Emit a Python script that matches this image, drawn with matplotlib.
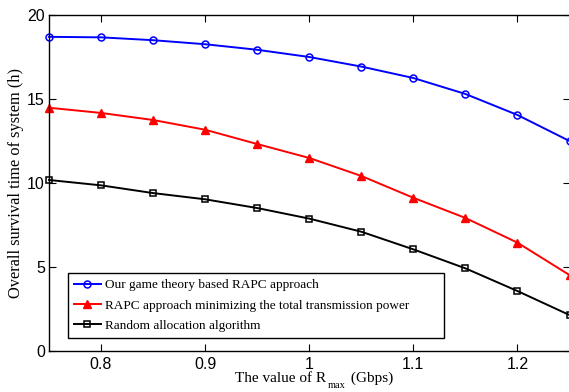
import matplotlib
matplotlib.use("Agg")
import matplotlib.pyplot as plt

x = [0.75, 0.8, 0.85, 0.9, 0.95, 1.0, 1.05, 1.1, 1.15, 1.2, 1.25]
game = [18.7, 18.67, 18.5, 18.26, 17.93, 17.5, 16.93, 16.25, 15.3, 14.05, 12.5]
rapc_min = [14.48, 14.17, 13.75, 13.17, 12.32, 11.49, 10.42, 9.12, 7.92, 6.45, 4.52]
random_alloc = [10.18, 9.86, 9.4, 9.03, 8.51, 7.88, 7.1, 6.05, 4.92, 3.57, 2.14]
labels = ["Our game theory based RAPC approach",
          "RAPC approach minimizing the total transmission power",
          "Random allocation algorithm"]
xticks = [0.8, 0.9, 1.0, 1.1, 1.2]
xticklabels = ["0.8", "0.9", "1", "1.1", "1.2"]
yticks = [0, 5, 10, 15, 20]
xlabel_parts = ["The value of R", "max", " (Gbps)"]
ylabel = "Overall survival time of system (h)"

W, H = 569, 392
fig = plt.figure(figsize=(W/100, H/100), dpi=100)
L, R, T, B = 49, 569.5, 15, 351
ax = fig.add_axes([L/W, 1-B/H, (R-L)/W, (B-T)/H])

ax.plot(x, game, color='#0000ff', marker='o', ms=5, mfc='none', mew=1.1, lw=1.4, label=labels[0], clip_on=False)
ax.plot(x, rapc_min, color='#ff0000', marker='^', ms=6, mfc='#ff0000', mew=1.0, lw=1.4, label=labels[1], clip_on=False)
ax.plot(x, random_alloc, color='black', marker='s', ms=4.5, mfc='none', mew=1.1, lw=1.4, label=labels[2], clip_on=False)

ax.set_xlim(0.75, 1.25)
ax.set_ylim(0, 20)
ax.set_xticks(xticks)
ax.set_xticklabels(xticklabels)
ax.set_yticks(yticks)
ax.tick_params(direction='in', top=True, right=True, length=5, width=0.8, labelsize=11.5)
ax.tick_params(axis='y', pad=3)
ax.tick_params(axis='x', pad=4)
for lab in ax.get_xticklabels() + ax.get_yticklabels():
    lab.set_fontfamily('Liberation Sans')
for s in ax.spines.values():
    s.set_linewidth(1.0)

# x label composed of pieces (subscript sits below baseline as in reference)
fig.canvas.draw()
renderer = fig.canvas.get_renderer()
base_y = 1 - 382/H
t1 = fig.text(235/W, base_y, xlabel_parts[0], family='Liberation Serif', fontsize=11, va='baseline', ha='left')
fig.canvas.draw()
e1 = t1.get_window_extent(renderer)
t2 = fig.text((e1.x1 + 2)/W, base_y - 6.5/H, xlabel_parts[1], family='Liberation Serif', fontsize=7.5, va='baseline', ha='left')
fig.canvas.draw()
e2 = t2.get_window_extent(renderer)
t3 = fig.text((e2.x1 + 1)/W, base_y, xlabel_parts[2], family='Liberation Serif', fontsize=11, va='baseline', ha='left')

ax.set_ylabel(ylabel, family='Liberation Serif', fontsize=11.8)
ax.yaxis.label.set_va('center')
ax.yaxis.set_label_coords(-(L-16)/(R-L), 0.5)

leg = ax.legend(loc='lower left',
                bbox_to_anchor=((68-L)/(R-L), (B-338)/(B-T), (444-68)/(R-L), (338-272)/(B-T)),
                mode='expand', borderaxespad=0,
                prop={'family': 'Liberation Serif', 'size': 9.5},
                fancybox=False, framealpha=1, edgecolor='black', handlelength=2.05, borderpad=0.45,
                labelspacing=0.62, handletextpad=0.3)
leg.get_frame().set_linewidth(1.0)

fig.savefig("out.png", dpi=100)
